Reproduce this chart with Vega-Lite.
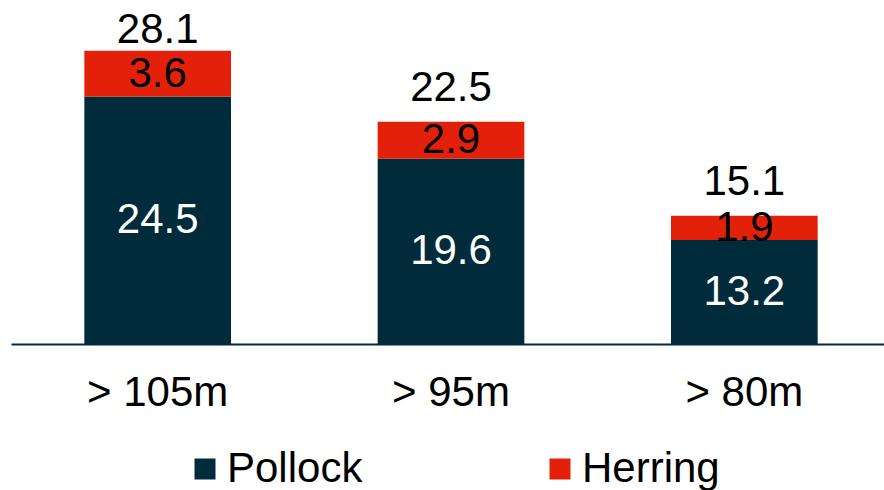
{
  "$schema": "https://vega.github.io/schema/vega-lite/v6.json",
  "width": 880,
  "height": 344,
  "autosize": {"type": "none"},
  "padding": {"left": 11, "top": 0, "right": 0, "bottom": 146},
  "background": "white",
  "config": {"view": {"stroke": null}, "font": "Liberation Sans"},
  "data": {"values": [
    {"category": "> 105m", "Pollock": 24.5, "Herring": 3.6, "Total": 28.1},
    {"category": "> 95m", "Pollock": 19.6, "Herring": 2.9, "Total": 22.5},
    {"category": "> 80m", "Pollock": 13.2, "Herring": 1.9, "Total": 15.1}
  ]},
  "encoding": {
    "x": {
      "field": "category", "type": "nominal", "sort": null,
      "scale": {"paddingInner": 0.5, "paddingOuter": 0.25},
      "axis": {"title": null, "labelAngle": 0, "ticks": false, "tickSize": 0, "labelFontSize": 42, "labelColor": "#000000", "labelFont": "Liberation Sans", "labelPadding": 61, "labelBaseline": "alphabetic", "domainColor": "#002b3b", "domainWidth": 2}
    }
  },
  "layer": [
    {
      "transform": [{"fold": ["Pollock", "Herring"], "as": ["species", "value"]}],
      "mark": {"type": "bar", "clip": true},
      "encoding": {
        "y": {"field": "value", "type": "quantitative", "stack": "zero", "scale": {"domain": [5, 32.1], "nice": false, "zero": false}, "axis": null},
        "color": {
          "field": "species", "type": "nominal",
          "scale": {"domain": ["Pollock", "Herring"], "range": ["#002b3b", "#e3210b"]},
          "legend": {"orient": "none", "legendX": 173, "legendY": 448, "direction": "horizontal", "title": null, "symbolType": "square", "symbolSize": 441, "symbolStrokeWidth": 0, "symbolOpacity": 1, "labelFontSize": 42, "labelFont": "Liberation Sans", "labelColor": "#000000", "labelOffset": 1, "columnPadding": 176, "labelLimit": 400}
        },
        "order": {"field": "species", "sort": "descending"}
      }
    },
    {
      "transform": [{"calculate": "(datum.Pollock + 5) / 2", "as": "pmid"}],
      "mark": {"type": "text", "fontSize": 42, "color": "#ffffff", "baseline": "middle", "font": "Liberation Sans"},
      "encoding": {
        "y": {"field": "pmid", "type": "quantitative"},
        "text": {"field": "Pollock", "type": "quantitative", "format": ".1f"}
      }
    },
    {
      "transform": [{"calculate": "datum.Pollock + datum.Herring / 2", "as": "hmid"}],
      "mark": {"type": "text", "fontSize": 42, "color": "#000000", "baseline": "middle", "font": "Liberation Sans"},
      "encoding": {
        "y": {"field": "hmid", "type": "quantitative"},
        "text": {"field": "Herring", "type": "quantitative", "format": ".1f"}
      }
    },
    {
      "transform": [{"filter": "datum.Total > 25"}],
      "mark": {"type": "text", "fontSize": 42, "color": "#000000", "baseline": "alphabetic", "dy": -8, "font": "Liberation Sans"},
      "encoding": {
        "y": {"field": "Total", "type": "quantitative"},
        "text": {"field": "Total", "type": "quantitative", "format": ".1f"}
      }
    },
    {
      "transform": [{"filter": "datum.Total <= 25"}],
      "mark": {"type": "text", "fontSize": 42, "color": "#000000", "baseline": "alphabetic", "dy": -21, "font": "Liberation Sans"},
      "encoding": {
        "y": {"field": "Total", "type": "quantitative"},
        "text": {"field": "Total", "type": "quantitative", "format": ".1f"}
      }
    }
  ]
}
